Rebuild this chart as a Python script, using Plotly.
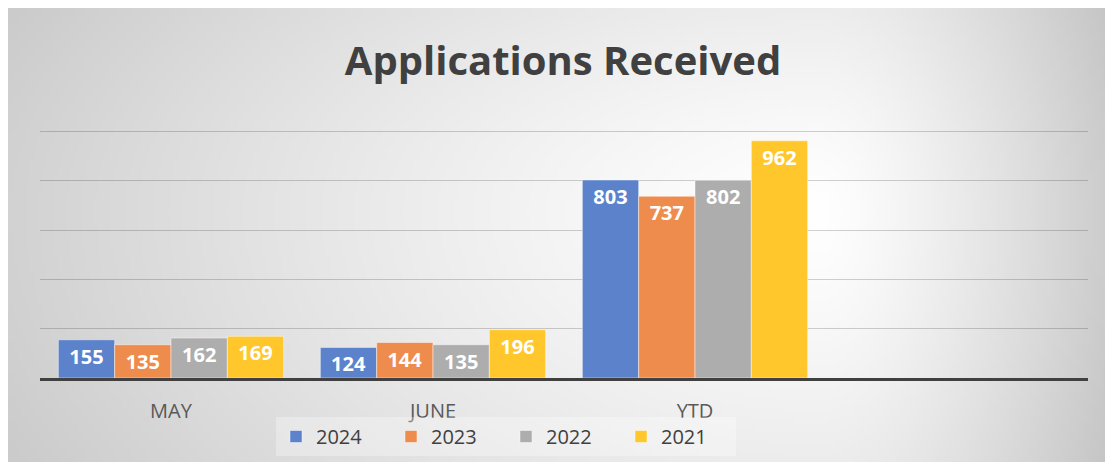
import base64
import struct
import zlib

import numpy as np
import plotly.graph_objects as go

# data
months = ["MAY", "JUNE", "YTD"]
years = ["2024", "2023", "2022", "2021"]
values_2024 = [155, 124, 803]
values_2023 = [135, 144, 737]
values_2022 = [162, 135, 802]
values_2021 = [169, 196, 962]
series = [values_2024, values_2023, values_2022, values_2021]
colors = ["#5B82CB", "#EE8C4E", "#ADADAD", "#FFC72C"]

# figure sits 8px in from the window corner (page margin)
W, H = 1105, 454
OFF = 8


def gradient_png(w, h):
    """Radial grey gradient like the Excel chart area, as a data URI."""
    xs = np.linspace(OFF, W + OFF, w)
    ys = np.linspace(OFF, H + OFF, h)
    X, Y = np.meshgrid(xs, ys)
    cx, cy = 820.0, 210.0
    nx = np.where(X < cx, (X - cx) / (cx - 7), (X - cx) / 265.0)
    ny = np.where(Y < cy, (Y - cy) / (2 * (cy - 8)), (Y - cy) / (2 * (462 - cy)))
    d = np.sqrt(nx ** 2 + ny ** 2)
    v = np.clip(255 - 45 * d ** 1.3, 0, 255).astype(np.uint8)
    raw = b"".join(b"\x00" + row.tobytes() for row in v)

    def chunk(tag, data):
        c = struct.pack(">I", len(data)) + tag + data
        return c + struct.pack(">I", zlib.crc32(tag + data) & 0xFFFFFFFF)

    png = (b"\x89PNG\r\n\x1a\n"
           + chunk(b"IHDR", struct.pack(">IIBBBBB", w, h, 8, 0, 0, 0, 0))
           + chunk(b"IDAT", zlib.compress(raw, 9))
           + chunk(b"IEND", b""))
    return "data:image/png;base64," + base64.b64encode(png).decode()


fig = go.Figure()
for name, vals, col in zip(years, series, colors):
    # push big-bar labels lower, like Excel's inside-end labels
    templates = ["<br><br>%{y}" if v > 400 else "%{y}" for v in vals]
    fig.add_trace(go.Bar(
        x=months, y=vals, name=name,
        marker=dict(color=col, line=dict(color="rgba(255,255,255,0.45)", width=1)),
        texttemplate=templates,
        textposition="inside",
        insidetextanchor="end",
        constraintext="none",
        textfont=dict(family="Open Sans", size=20, color="white", weight="bold"),
        hoverinfo="skip",
    ))

# plot area (figure px): x 32..1080, y 121..370, y range 0..1010
ml, mr, mt, mb = 32, W - 1080, 121, H - 370
pw, ph = W - ml - mr, H - mt - mb

fig.add_layout_image(
    source=gradient_png(276, 114),
    xref="paper", yref="paper",
    x=-ml / pw, y=1 + mt / ph,
    sizex=W / pw, sizey=H / ph,
    xanchor="left", yanchor="top",
    sizing="stretch", layer="below",
)

fig.update_layout(
    width=W, height=H,
    margin=dict(l=ml, r=mr, t=mt, b=mb, autoexpand=False),
    paper_bgcolor="white",
    plot_bgcolor="rgba(0,0,0,0)",
    barmode="group",
    bargap=0.14,
    bargroupgap=0,
    title=dict(
        text="<b>Applications Received</b>",
        x=555 / W, xref="container", xanchor="center",
        y=1 - 53 / H, yref="container", yanchor="middle",
        font=dict(family="Open Sans", size=40, color="#404040"),
    ),
    font=dict(family="Open Sans", color="#404040"),
    legend=dict(
        orientation="h",
        x=(498 - ml) / pw, xanchor="center",
        y=-(409 - 370) / ph, yanchor="top",
        bgcolor="rgba(255,255,255,0.3)",
        font=dict(size=20, color="#404040"),
        entrywidth=70,
        itemclick=False,
    ),
    showlegend=True,
)

fig.update_xaxes(
    range=[-0.5, 3.5],
    showline=True, linecolor="#404040", linewidth=3,
    showgrid=False, ticks="",
    tickfont=dict(family="Open Sans", size=20, color="#595959"),
    ticklabelstandoff=13,
    fixedrange=True,
)
fig.update_yaxes(
    range=[0, 1010], dtick=200,
    showgrid=True, gridcolor="rgba(0,0,0,0.18)", gridwidth=1.3,
    zeroline=False, showticklabels=False, ticks="",
    fixedrange=True,
)

fig.write_html("out.html")
